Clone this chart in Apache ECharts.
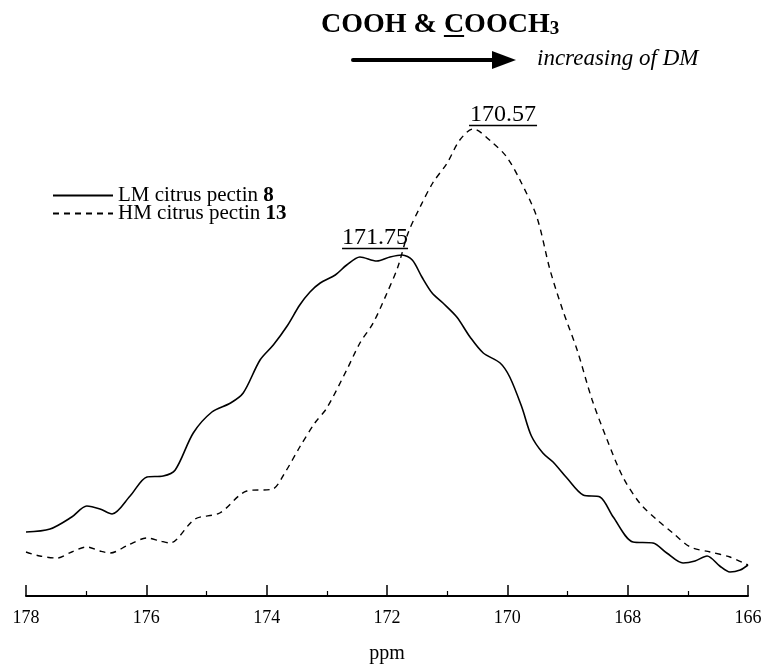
<!DOCTYPE html>
<html><head><meta charset="utf-8">
<script src="https://cdn.jsdelivr.net/npm/echarts@6/dist/echarts.min.js"></script>
<style>html,body{margin:0;padding:0;background:#fff}#c{width:761px;height:664px}</style>
</head><body><div id="c"></div>
<script>
const seriesNames = ['LM citrus pectin 8', 'HM citrus pectin 13'];
const lmPpm = [178.00,177.60,177.24,176.99,176.77,176.57,176.27,175.99,175.72,175.52,175.22,174.91,174.60,174.39,174.11,173.89,173.66,173.45,173.28,173.11,172.86,172.67,172.45,172.17,171.95,171.75,171.58,171.42,171.25,171.07,170.84,170.62,170.40,170.12,169.96,169.76,169.60,169.41,169.24,169.01,168.74,168.46,168.24,167.91,167.58,167.35,167.08,166.88,166.68,166.47,166.30,166.13,166.00];
const lmIntensity = [64,67,79,90,87,82,100,119,120,126,163,184,193,203,236,251,270,291,304,313,321,331,339,335,339,341,336,319,303,293,279,259,243,233,219,189,160,143,134,118,101,99,79,54,53,43,33,35,40,30,24,26,31];
const hmPpm = [178.00,177.77,177.48,177.24,176.99,176.77,176.60,176.30,175.99,175.77,175.61,175.19,174.78,174.33,173.90,173.70,173.45,173.20,173.00,172.67,172.45,172.23,172.00,171.82,171.65,171.45,171.24,171.00,170.79,170.57,170.24,170.01,169.79,169.51,169.29,169.08,168.84,168.59,168.34,168.08,167.80,167.51,167.25,166.96,166.63,166.30,166.00];
const hmIntensity = [44,40,38,44,49,45,43,51,58,55,53,77,83,105,107,123,149,173,188,226,253,273,303,329,363,389,413,433,456,467,453,439,416,379,326,286,246,196,156,119,93,76,63,49,44,39,31];
const peakPpm = [171.75, 170.57];
const peakLabels = ['171.75', '170.57'];
const xAxisRange = [166, 178];
const xInterval = 2;
const axisName = 'ppm';
const titleMain = 'COOH & ';
const titleUnder = 'C';
const titleRest = 'OOCH';
const titleSub = '3';
const arrowText = 'increasing of DM';

const SERIF = '"Liberation Serif","Times New Roman",serif';
const zip = (a, b) => a.map((v, i) => [v, b[i]]);
const chart = echarts.init(document.getElementById('c'));

const TFS = 28;
const mctx = document.createElement('canvas').getContext('2d');
mctx.font = 'bold ' + TFS + 'px ' + SERIF;
const preW = mctx.measureText(titleMain).width;
const cW = mctx.measureText(titleUnder).width;
const titleLeft = 321;

function peakMark(i, val, offset, w) {
  return {
    symbol: 'circle', symbolSize: 0, silent: true,
    data: [{ coord: [peakPpm[i], val] }],
    label: {
      show: true, position: 'inside', offset: offset,
      formatter: '{t|' + peakLabels[i] + '}\n{u|}',
      rich: {
        t: { fontFamily: SERIF, fontSize: 24, color: '#000', lineHeight: 18, align: 'center' },
        u: { width: w, height: 1.5, lineHeight: 3, backgroundColor: '#000', align: 'center' }
      }
    }
  };
}

const legendFmt = name => {
  const k = name.lastIndexOf(' ');
  return name.slice(0, k + 1) + '{b|' + name.slice(k + 1) + '}';
};

chart.setOption({
  animation: false,
  backgroundColor: '#fff',
  grid: { left: 26, right: 13, top: 96, bottom: 68, containLabel: false, outerBoundsMode: 'none' },
  title: {
    left: titleLeft, top: 10, padding: 0,
    text: titleMain + '{u|' + titleUnder + '}' + titleRest + '{s|' + titleSub + '}',
    textStyle: {
      fontFamily: SERIF, fontSize: TFS, fontWeight: 'bold', color: '#000',
      rich: {
        u: { fontFamily: SERIF, fontSize: TFS, fontWeight: 'bold', color: '#000' },
        s: { fontFamily: SERIF, fontSize: 19, fontWeight: 'bold', color: '#000', verticalAlign: 'bottom', padding: [10, 0, 0, 0] }
      }
    }
  },
  legend: {
    orient: 'vertical', left: 47, top: 180,
    itemWidth: 60, itemHeight: 10, itemGap: -3,
    selectedMode: false,
    itemStyle: { opacity: 0 },
    data: seriesNames,
    formatter: legendFmt,
    textStyle: {
      fontFamily: SERIF, fontSize: 21, color: '#000', lineHeight: 16,
      rich: { b: { fontFamily: SERIF, fontSize: 21, fontWeight: 'bold', color: '#000', lineHeight: 16 } }
    }
  },
  xAxis: {
    type: 'value', inverse: true,
    min: xAxisRange[0], max: xAxisRange[1], interval: xInterval,
    name: axisName, nameLocation: 'middle', nameGap: 48,
    nameTextStyle: { fontFamily: SERIF, fontSize: 20, color: '#000' },
    axisLine: { show: true, lineStyle: { color: '#000', width: 2 } },
    axisTick: { show: true, inside: true, length: 11, lineStyle: { color: '#000', width: 1.5 } },
    minorTick: { show: true, splitNumber: 2, length: 5, lineStyle: { color: '#000', width: 1.2 } },
    splitLine: { show: false },
    axisLabel: { margin: 13, fontFamily: SERIF, fontSize: 18, color: '#000' }
  },
  yAxis: { type: 'value', min: 0, max: 500, show: false },
  series: [
    {
      name: seriesNames[0], type: 'line', smooth: 0.3, symbol: 'none',
      lineStyle: { color: '#000', width: 1.6, type: 'solid' },
      itemStyle: { color: '#000' },
      data: zip(lmPpm, lmIntensity),
      markPoint: peakMark(0, Math.max(...lmIntensity), [-27, -15.5], 66)
    },
    {
      name: seriesNames[1], type: 'line', smooth: 0.3, symbol: 'none',
      lineStyle: { color: '#000', width: 1.4, type: [6, 5] },
      itemStyle: { color: '#000' },
      data: zip(hmPpm, hmIntensity),
      markPoint: peakMark(1, Math.max(...hmIntensity), [30, -12.5], 68)
    }
  ],
  graphic: [
    { type: 'rect', shape: { x: titleLeft + preW, y: 35, width: cW, height: 2 }, style: { fill: '#000' } },
    { type: 'line', shape: { x1: 353, y1: 60, x2: 494, y2: 60 }, style: { stroke: '#000', lineWidth: 4, lineCap: 'round' } },
    { type: 'polygon', shape: { points: [[492, 51], [516, 60], [492, 69]] }, style: { fill: '#000' } },
    { type: 'text', left: 537, top: 47, style: { text: arrowText, fontFamily: SERIF, fontStyle: 'italic', fontSize: 23, fill: '#000' } }
  ]
});
</script></body></html>
